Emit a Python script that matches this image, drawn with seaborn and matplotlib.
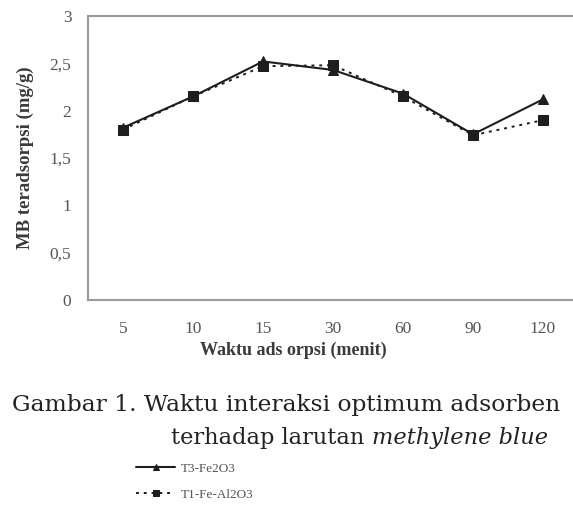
import numpy as np
import pandas as pd
import matplotlib
matplotlib.use("Agg")
import matplotlib.pyplot as plt
from matplotlib.ticker import FixedLocator
import seaborn as sns

# waktu adsorpsi (menit) and MB teradsorpsi (mg/g)
waktu = ["5", "10", "15", "30", "60", "90", "120"]
t3_fe2o3 = [1.82, 2.15, 2.52, 2.43, 2.18, 1.75, 2.12]
t1_fe_al2o3 = [1.80, 2.15, 2.47, 2.48, 2.15, 1.74, 1.90]
y_ticks = [0, 0.5, 1, 1.5, 2, 2.5, 3]
y_tick_labels = ["0", "0,5", "1", "1,5", "2", "2,5", "3"]

df = pd.DataFrame({"waktu": waktu, "T3-Fe2O3": t3_fe2o3, "T1-Fe-Al2O3": t1_fe_al2o3})

sns.set_style("white")
plt.rcParams["font.family"] = ["Liberation Serif", "DejaVu Serif"]

fig = plt.figure(figsize=(5.73, 5.16), dpi=100)
W, H = 573, 516
ax = fig.add_axes([88 / W, (H - 300) / H, 490 / W, 284 / H])

line_col = "#1e1e1e"
sns.lineplot(data=df, x="waktu", y="T3-Fe2O3", ax=ax, color=line_col, lw=1.5,
             marker="^", markersize=6.5, markeredgecolor=line_col, label="T3-Fe2O3", sort=False)
sns.lineplot(data=df, x="waktu", y="T1-Fe-Al2O3", ax=ax, color=line_col, lw=1.4,
             linestyle=(0, (1.5, 2.5)), marker="s", markersize=6.5, markeredgecolor=line_col,
             label="T1-Fe-Al2O3", sort=False)

ax.set_xlim(-0.5, len(waktu) - 0.5)
ax.set_ylim(0, 3)
ax.set_yticks(y_ticks)
ax.set_yticklabels(y_tick_labels)
ax.set_xticks(range(len(waktu)))
ax.set_xticklabels(waktu)
ax.xaxis.set_minor_locator(FixedLocator(np.arange(0.5, len(waktu) - 0.5, 1)))
ax.tick_params(axis="x", which="major", length=0, pad=15, labelsize=12.5, colors="#555555")
ax.tick_params(axis="x", which="minor", length=4, width=1, color="#999999", direction="out")
ax.tick_params(axis="y", which="major", length=4, width=1, color="#999999", direction="out",
               pad=8, labelsize=12.5, labelcolor="#555555")

for s in ["left", "bottom", "top"]:
    ax.spines[s].set_color("#9a9a9a")
    ax.spines[s].set_linewidth(1.5)
ax.spines["right"].set_visible(False)

ax.set_xlabel("Waktu ads orpsi (menit)", fontsize=13, fontweight="bold", color="#3a3a3a")
ax.xaxis.set_label_coords((293 - 88) / 490, -42 / 284)
ax.set_ylabel("MB teradsorpsi (mg/g)", fontsize=13.5, fontweight="bold", color="#3a3a3a", labelpad=11)
ax.get_legend().remove()

cap_font = ["DejaVu Serif"]
fig.text(12 / W, 1 - 405 / H, "Gambar 1. Waktu interaksi optimum adsorben", fontsize=16.8,
         family=cap_font, va="center", ha="left", color="#222222")
t1 = fig.text(171 / W, 1 - 438 / H, "terhadap larutan ", fontsize=16.2,
              family=cap_font, va="center", ha="left", color="#222222")
fig.canvas.draw()
bb = t1.get_window_extent()
fig.text(bb.x1 / W, 1 - 438 / H, "methylene blue", fontsize=16.2, style="italic",
         family=cap_font, va="center", ha="left", color="#222222")

handles, labels = ax.get_legend_handles_labels()
fig.legend(handles, labels, loc="upper left", bbox_to_anchor=(124 / W, 1 - 451 / H),
           frameon=False, fontsize=9.5, labelcolor="#555555", handlelength=3.0,
           handletextpad=0.4, labelspacing=1.0, markerscale=0.7)

fig.savefig("out.png", dpi=100)
